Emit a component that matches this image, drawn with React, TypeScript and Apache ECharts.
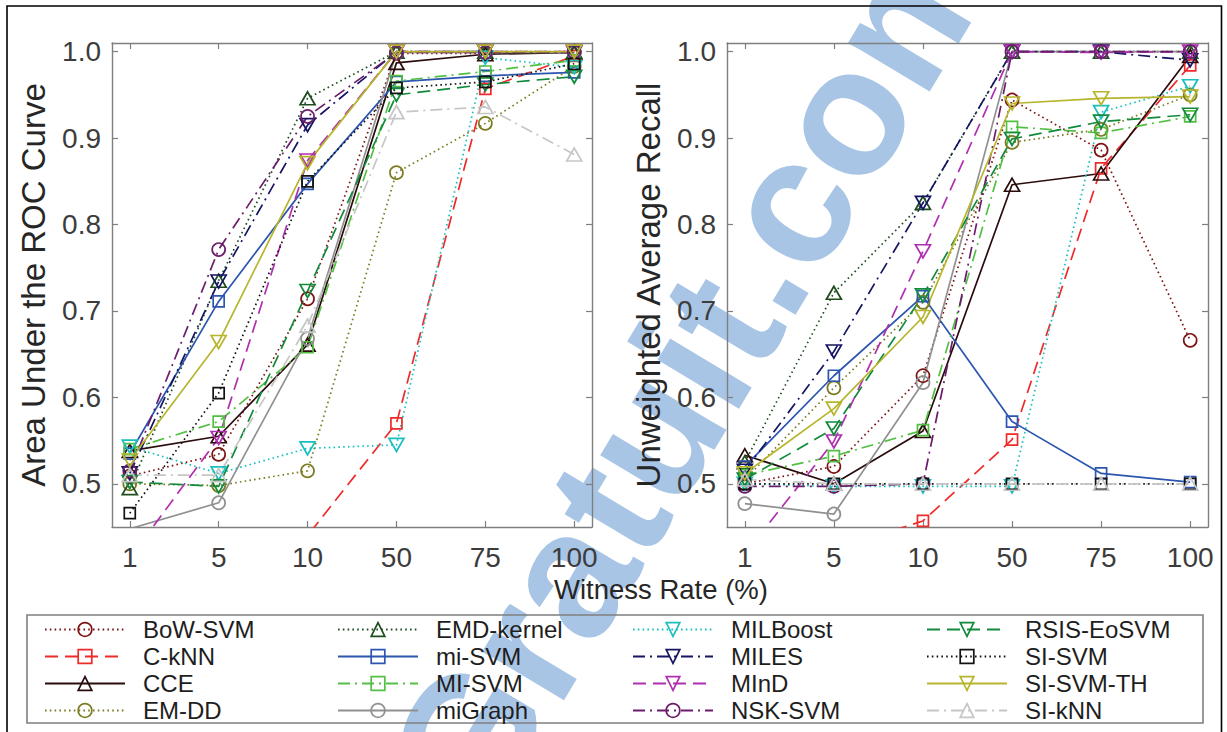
import React, { useEffect, useRef } from "react";
import * as echarts from "echarts";

// Witness-rate categories on the horizontal axis
const witnessRates = ["1", "5", "10", "50", "75", "100"];
const xIndex = [0, 1, 2, 3, 4, 5];
const yTicks = [0.5, 0.6, 0.7, 0.8, 0.9, 1.0];

const methods = [
  "BoW-SVM", "C-kNN", "CCE", "EM-DD",
  "EMD-kernel", "mi-SVM", "MI-SVM", "miGraph",
  "MILBoost", "MILES", "MInD", "NSK-SVM",
  "RSIS-EoSVM", "SI-SVM", "SI-SVM-TH", "SI-kNN",
];

// Area under the ROC curve
const aucBowSvm = [0.509, 0.534, 0.714, 0.998, 0.998, 0.999];
const aucCknn = [0.35, 0.38, 0.44, 0.57, 0.957, 0.995];
const aucCce = [0.538, 0.555, 0.661, 0.987, 0.997, 0.999];
const aucEmdd = [0.5, 0.498, 0.515, 0.86, 0.917, 0.983];
const aucEmdKernel = [0.495, 0.735, 0.946, 1.0, 1.0, 1.0];
const aucMiSvm = [0.535, 0.711, 0.847, 0.965, 0.972, 0.976];
const aucMISvm = [0.54, 0.572, 0.658, 0.966, 0.977, 0.99];
const aucMiGraph = [0.448, 0.478, 0.668, 0.999, 0.999, 0.999];
const aucMilBoost = [0.543, 0.512, 0.541, 0.545, 0.993, 0.982];
const aucMiles = [0.512, 0.734, 0.915, 1.0, 1.0, 0.999];
const aucMind = [0.414, 0.553, 0.874, 1.0, 1.0, 1.0];
const aucNskSvm = [0.515, 0.771, 0.925, 0.999, 0.999, 1.0];
const aucRsis = [0.502, 0.497, 0.723, 0.95, 0.962, 0.971];
const aucSiSvm = [0.466, 0.605, 0.85, 0.958, 0.965, 0.986];
const aucSiSvmTh = [0.527, 0.664, 0.871, 1.0, 1.0, 1.0];
const aucSiKnn = [0.51, 0.51, 0.683, 0.93, 0.936, 0.881];

// Unweighted average recall
const uarBowSvm = [0.5, 0.52, 0.625, 0.944, 0.886, 0.666];
const uarCknn = [0.38, 0.424, 0.457, 0.551, 0.865, 0.984];
const uarCce = [0.533, 0.5, 0.561, 0.846, 0.859, 0.995];
const uarEmdd = [0.505, 0.611, 0.71, 0.895, 0.91, 0.95];
const uarEmdKernel = [0.525, 0.721, 0.825, 1.0, 1.0, 1.0];
const uarMiSvm = [0.52, 0.625, 0.717, 0.572, 0.512, 0.502];
const uarMISvm = [0.51, 0.532, 0.562, 0.913, 0.906, 0.925];
const uarMiGraph = [0.477, 0.465, 0.617, 1.0, 1.0, 1.0];
const uarMilBoost = [0.5, 0.497, 0.497, 0.497, 0.93, 0.96];
const uarMiles = [0.515, 0.653, 0.825, 1.0, 1.0, 0.99];
const uarMind = [0.419, 0.549, 0.769, 1.0, 0.999, 1.0];
const uarNskSvm = [0.497, 0.497, 0.5, 1.0, 1.0, 1.0];
const uarRsis = [0.505, 0.564, 0.718, 0.899, 0.919, 0.927];
const uarSiSvm = [0.5, 0.5, 0.5, 0.5, 0.5, 0.5];
const uarSiSvmTh = [0.512, 0.587, 0.693, 0.94, 0.946, 0.948];
const uarSiKnn = [0.505, 0.5, 0.5, 0.5, 0.5, 0.5];

const aucByMethod = [
  aucBowSvm, aucCknn, aucCce, aucEmdd, aucEmdKernel, aucMiSvm, aucMISvm, aucMiGraph,
  aucMilBoost, aucMiles, aucMind, aucNskSvm, aucRsis, aucSiSvm, aucSiSvmTh, aucSiKnn,
];
const uarByMethod = [
  uarBowSvm, uarCknn, uarCce, uarEmdd, uarEmdKernel, uarMiSvm, uarMISvm, uarMiGraph,
  uarMilBoost, uarMiles, uarMind, uarNskSvm, uarRsis, uarSiSvm, uarSiSvmTh, uarSiKnn,
];

// Line styles
const DOT = [1.6, 3.2];
const DASH = [13, 7];
const DASHDOT = [12, 5, 2, 5];
const SOLID = "solid";

type Look = { color: string; dash: number[] | string; marker: "circle" | "square" | "up" | "down" };
const looks: Look[] = [
  { color: "#7d1414", dash: DOT, marker: "circle" },
  { color: "#ee2a2a", dash: DASH, marker: "square" },
  { color: "#2b0c0c", dash: SOLID, marker: "up" },
  { color: "#7b7b22", dash: DOT, marker: "circle" },
  { color: "#1f4d1f", dash: DOT, marker: "up" },
  { color: "#2c55b0", dash: SOLID, marker: "square" },
  { color: "#52c042", dash: DASHDOT, marker: "square" },
  { color: "#909090", dash: SOLID, marker: "circle" },
  { color: "#1bbfbf", dash: DOT, marker: "down" },
  { color: "#151562", dash: DASHDOT, marker: "down" },
  { color: "#b02fb0", dash: DASH, marker: "down" },
  { color: "#6b1d6b", dash: DASHDOT, marker: "circle" },
  { color: "#128a3c", dash: DASH, marker: "down" },
  { color: "#121212", dash: DOT, marker: "square" },
  { color: "#b6b52c", dash: SOLID, marker: "down" },
  { color: "#c6c6c6", dash: DASHDOT, marker: "up" },
];

const FONT = '"Liberation Sans", Arial, Helvetica, sans-serif';
const FRAME = "#7f7f7f";
const TICK_TEXT = "#3c3c3c";
const TITLE_TEXT = "#262626";

function markerProps(m: Look["marker"]) {
  if (m === "circle") return { symbol: "circle", symbolSize: 13, symbolRotate: 0 };
  if (m === "square") return { symbol: "rect", symbolSize: 11, symbolRotate: 0 };
  if (m === "up") return { symbol: "triangle", symbolSize: [15, 13], symbolRotate: 0 };
  return { symbol: "triangle", symbolSize: [15, 13], symbolRotate: 180 };
}

function buildSeries(values: number[][], panel: number) {
  return methods.map((name, i) => {
    const look = looks[i];
    return {
      name,
      type: "line",
      xAxisIndex: panel * 2,
      yAxisIndex: panel * 2,
      data: values[i].map((v, k) => [xIndex[k], v]),
      ...markerProps(look.marker),
      showSymbol: true,
      clip: true,
      silent: true,
      z: 3,
      lineStyle: { color: look.color, width: 1.7, type: look.dash, cap: "butt" },
      itemStyle: { color: "rgba(0,0,0,0)", borderColor: look.color, borderWidth: 1.7 },
      emphasis: { disabled: true },
    };
  });
}

function panelAxes(panel: number, yName: string) {
  const xBase = {
    gridIndex: panel,
    type: "value",
    min: -0.2,
    max: 5.2,
    axisLine: { show: true, onZero: false, lineStyle: { color: FRAME, width: 1.4 } },
    axisTick: { show: true, inside: true, length: 6, customValues: xIndex, lineStyle: { color: FRAME, width: 1.2 } },
    splitLine: { show: false },
  };
  const yBase = {
    gridIndex: panel,
    type: "value",
    min: 0.45,
    max: 1.01,
    axisLine: { show: true, onZero: false, lineStyle: { color: FRAME, width: 1.4 } },
    axisTick: { show: true, inside: true, length: 6, customValues: yTicks, lineStyle: { color: FRAME, width: 1.2 } },
    splitLine: { show: false },
  };
  const xAxes = [
    {
      ...xBase,
      position: "bottom",
      axisLabel: {
        customValues: xIndex,
        formatter: (v: number) => witnessRates[Math.round(v)],
        fontSize: 28,
        fontFamily: FONT,
        color: TICK_TEXT,
        margin: 16,
      },
    },
    { ...xBase, position: "top", axisLabel: { show: false } },
  ];
  const yAxes = [
    {
      ...yBase,
      position: "left",
      name: yName,
      nameLocation: "middle",
      nameGap: 62,
      nameTextStyle: { fontSize: 33, fontFamily: FONT, color: TITLE_TEXT },
      axisLabel: {
        customValues: yTicks,
        formatter: (v: number) => v.toFixed(1),
        fontSize: 28,
        fontFamily: FONT,
        color: TICK_TEXT,
        margin: 11,
      },
    },
    { ...yBase, position: "right", axisLabel: { show: false } },
  ];
  return { xAxes, yAxes };
}

const legendColumns = [0, 1, 2, 3].map((c) => methods.slice(c * 4, c * 4 + 4));
const legendLefts = [44, 337, 632, 926];

export default function App() {
  const ref = useRef<HTMLDivElement>(null);

  useEffect(() => {
    if (!ref.current) return;
    const chart = echarts.init(ref.current, undefined, { renderer: "svg" });
    const left = panelAxes(0, "Area Under the ROC Curve");
    const right = panelAxes(1, "Unweighted Average Recall");

    chart.setOption({
      animation: false,
      backgroundColor: "#ffffff",
      grid: [
        { left: 112, top: 43, width: 480, height: 484, outerBoundsMode: "none" },
        { left: 727, top: 43, width: 481, height: 484, outerBoundsMode: "none" },
      ],
      xAxis: [...left.xAxes, ...right.xAxes],
      yAxis: [...left.yAxes, ...right.yAxes],
      legend: legendColumns.map((names, c) => ({
        data: names,
        orient: "vertical",
        left: legendLefts[c],
        top: 616,
        padding: 0,
        itemWidth: 80,
        itemHeight: 17,
        itemGap: 0,
        selectedMode: false,
        itemStyle: { borderWidth: 1.7 },
        textStyle: {
          fontSize: 24,
          fontFamily: FONT,
          color: "#1e1e1e",
          lineHeight: 27,
          padding: [0, 0, 0, 13],
        },
      })),
      graphic: [
        {
          type: "text",
          z: -10,
          silent: true,
          x: 952,
          y: -67,
          rotation: (59 * Math.PI) / 180,
          style: {
            text: "Cours-Gratuit.com",
            font: 'bold 180px "Liberation Sans", Arial, sans-serif',
            fill: "#a9c5e6",
            align: "right",
            verticalAlign: "middle",
          },
        },
        {
          type: "text",
          silent: true,
          x: 661,
          y: 589,
          style: {
            text: "Witness Rate (%)",
            font: '27.5px "Liberation Sans", Arial, sans-serif',
            fill: TITLE_TEXT,
            align: "center",
            verticalAlign: "middle",
          },
        },
        {
          type: "rect",
          silent: true,
          shape: { x: 27, y: 615, width: 1176, height: 108 },
          style: { fill: "none", stroke: FRAME, lineWidth: 1.6 },
        },
        {
          type: "rect",
          silent: true,
          shape: { x: 7, y: 6, width: 1214.5, height: 760 },
          style: { fill: "none", stroke: "#000000", lineWidth: 1.6 },
        },
      ],
      series: [...buildSeries(aucByMethod, 0), ...buildSeries(uarByMethod, 1)],
    });

    return () => chart.dispose();
  }, []);

  return (
    <div
      ref={ref}
      style={{ position: "fixed", left: 0, top: 0, width: 1227, height: 732 }}
    />
  );
}
